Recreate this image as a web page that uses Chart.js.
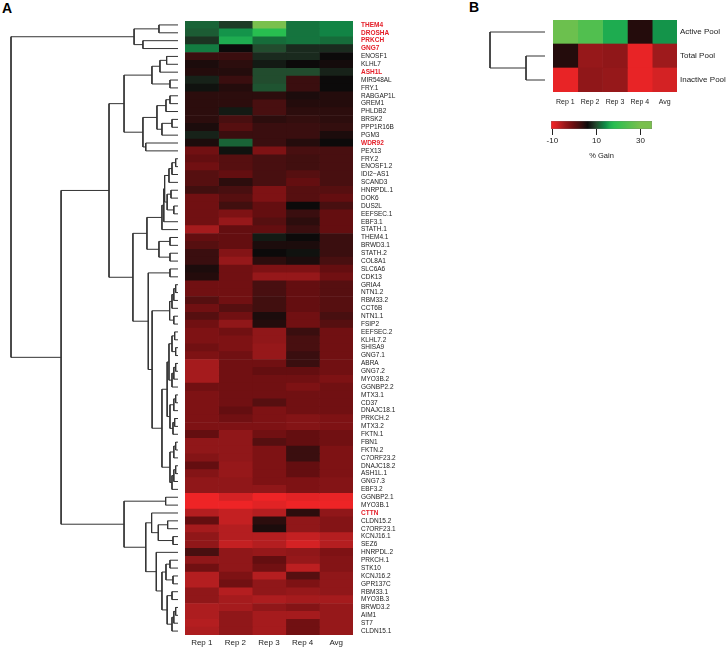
<!DOCTYPE html>
<html>
<head>
<meta charset="utf-8">
<script src="https://cdn.jsdelivr.net/npm/chart.js@4.4.1/dist/chart.umd.min.js"></script>
<style>
  body { margin: 0; background: #fff; width: 728px; height: 648px; position: relative; overflow: hidden;
         font-family: "Liberation Sans", Arial, sans-serif; }
  canvas, .panel { position: absolute; }
  .panel { font-weight: bold; font-size: 14px; line-height: 14px; color: #000; }
</style>
</head>
<body>
<div class="panel" style="left:2px;top:1px">A</div>
<div class="panel" style="left:469px;top:0px">B</div>
<canvas id="dendroA" width="185" height="648" style="left:0;top:0"></canvas>
<canvas id="heatA" width="245" height="648" style="left:185px;top:0"></canvas>
<canvas id="dendroB" width="70" height="110" style="left:480px;top:0"></canvas>
<canvas id="heatB" width="178" height="110" style="left:550px;top:0"></canvas>
<canvas id="scaleBar" width="125" height="60" style="left:540px;top:110px"></canvas>
<script>
// ---- data: panel A ----
const columns = ["Rep 1", "Rep 2", "Rep 3", "Rep 4", "Avg"];
const genes = ["THEM4", "DROSHA", "PRKCH", "GNG7", "ENOSF1", "KLHL7", "ASH1L", "MIR548AL", "FRY.1", "RABGAP1L",
  "GREM1", "PHLDB2", "BRSK2", "PPP1R16B", "PGM3", "WDR92", "PEX13", "FRY.2", "ENOSF1.2", "IDI2\u2212AS1",
  "SCAND3", "HNRPDL.1", "DOK6", "DUS2L", "EEFSEC.1", "EBF3.1", "STATH.1", "THEM4.1", "BRWD3.1", "STATH.2",
  "COL8A1", "SLC6A6", "CDK13", "GRIA4", "NTN1.2", "RBM33.2", "CCT6B", "NTN1.1", "FSIP2", "EEFSEC.2",
  "KLHL7.2", "SHISA9", "GNG7.1", "ABRA", "GNG7.2", "MYO3B.2", "GGNBP2.2", "MTX3.1", "CD37", "DNAJC18.1",
  "PRKCH.2", "MTX3.2", "FKTN.1", "FBN1", "FKTN.2", "C7ORF23.2", "DNAJC18.2", "ASH1L.1", "GNG7.3", "EBF3.2",
  "GGNBP2.1", "MYO3B.1", "CTTN", "CLDN15.2", "C7ORF23.1", "KCNJ16.1", "SEZ6", "HNRPDL.2", "PRKCH.1", "STK10",
  "KCNJ16.2", "GPR137C", "RBM33.1", "MYO3B.3", "BRWD3.2", "AIM1", "ST7", "CLDN15.1"];
const highlightGenes = ["THEM4", "DROSHA", "PRKCH", "GNG7", "ASH1L", "WDR92", "CTTN"];

// % gain per gene
const rep1 = [11.5, 11, 8.5, 13, 3, 5, 4.5, 7.5, 6.5, 4,
  4, 4, 4, 5, 7.5, 5, -1, 0, -1, 1,
  1, 2.5, -1, -1, -1, -1, -5, 0, 1, 3,
  3, 5, 4.5, -1, -1, 1, -1, 1, -1, -2,
  -2, -1, -2, -5, -5, -5, -1, -2, -2, -2,
  -2, -2, 0, -3.5, -3.5, -2.5, 0, -2.5, -3.5, -3.5,
  -10, -10, -6, 0, -5, -3.5, -3.5, 2, -3.5, -1,
  -6, -6, -3.5, -3.5, -5.5, -5.5, -6, -5.5];
const rep2 = [9, 14.5, 16, 6, 3, 4, 4.5, 3, 4.5, 4,
  4, 7, 2, 1, 3, 11.5, 6.5, 1, 1, 0,
  4, 2, 1, 2.5, -2, -4, 0, 0, 0, -2.5,
  -4, -1, -1, -1, -1, -1, 1, -1, -3.5, -1,
  -2, -2, -1, -1, -1, -1, -1, -1, -1, 0,
  -1, -2, -3.5, -3.5, -3.5, -3.5, -4, -4, -3.5, -3.5,
  -8, -10, -7, -7, -6, -6, -7, -3.5, -3.5, -3.5,
  -2, -1, -6, -5, -5, -3.5, -3.5, -3.5];
const rep3 = [30, 18, 12, 10, 8, 7, 10, 10, 10.5, 4,
  2, 2, 4, 3, 3, 3, -2, 2, 2, 2,
  2, -2, -2, 0, 0, 1, 0, 7, 5, 6,
  4, -2, -4, 2, 2, 2.5, 2.5, 5, 4.5, -3.5,
  -3.5, -4, -4, -1, 0, -1, -1, -1, 1, -2,
  -2, -2, -1, 1, -2, -2, -2, -2, -2, -3.5,
  -10, -9, -6, 4, 5, -6, -6, -4, 0, -1,
  -6, -3.5, -3.5, -5.5, -3.5, -5, -5, -5];
const rep4 = [12.5, 12.5, 12.5, 8, 8, 6, 10, 3, 3, 5,
  4.5, 4, 3.5, 3, 3, 4.5, 2, 2.5, 2.5, 1,
  0, 1, 1, 6, 3, 4, 3, 6, 5, 6.5,
  5, -2, -4, 0, 0, 0, 0, -1, -1, 3,
  2, 2, 3, 3, 0, -1, -2, -1, -1, -1,
  -2.5, -2.5, 0, 0, 3, 3, 0, 0, -2, -2,
  -9, -10, 4, -3.5, -3.5, -7, -8, -3.5, -4, -6.5,
  1, -2, -4, -5, -2.5, -5, -1, -1];
const avg = [13.5, 13.5, 12, 8, 6, 5.5, 7.5, 6, 6, 4.5,
  4.5, 4, 4, 3.5, 5, 6, 2, 2, 2, 2,
  2, 1, 0, 2, 0, 0, 0, 3, 3, 3,
  2, 0, -1, 1, 1, 1, 1, 2, 1, -1,
  -1, -1, -1, -1, -1, -2, -1, -1, -1, -1,
  -2, -2, -1, -1, -2, -2, -2, -2, -2.5, -2.5,
  -9.5, -10, -3.5, -2.5, -2.5, -6, -6, -2, -2.5, -2.5,
  -3.5, -3.5, -3.5, -5, -4, -4, -4, -4];

// row dendrogram, nodes are [height, left, right], leaves are row numbers
const treeTop = [26.3, [11.4, 1, 2], [21, 3, 4]];
const treeUpper = [32.3,
  [15.6, [10.8, [6.8, 5, 6], 7], [4.8, 8, 9]],
  [21, [12.6, [7.2, [4.8, 10, 11], 12], [9.6, [3.6, 13, 14], 15]], [19.3, 16, 17]]];
const treeMiddle = [27,
  [18.6,
    [9.6, [8.5, [8, [5.4, [3.6, [1.4, 18, 19], 20], 21], [6.5, [4.2, 22, 23], [2.5, 24, 25]]], 26], 27],
    [11.4, [4.8, 28, 29], [4.8, 30, 31]]],
  [17.8,
    [4.8, 32, 33],
    [15.5,
      [5, [3.6, [2.5, [1.4, 34, 35], 36], 37], [2.5, 38, 39]],
      [9.6,
        [6.5, [5.4, [3.6, [2, 40, 41], [1.4, 42, 43]], [3.6, [2.5, [1.4, 44, 45], 46], 47]],
              [4.8, [2.5, [1.4, 48, 49], 50], [3, [2, 51, 52], 53]]],
        [4.8, [2.5, [1.4, 54, 55], 56], [3.6, [2.5, [1.4, 57, 58], 59], 60]]]]]];
const treeBottom = [32.3,
  [7.4, 61, 62],
  [19.3,
    [15.8, 63, [11.8, [6.2, 64, 65], [3, 66, 67]]],
    [13, 68, [9.6, [7.2, [4.8, 69, 70], [3, 71, 72]],
                   [6.5, [3.6, 73, 74], [3.6, [2.5, [1.4, 75, 76], 77], 78]]]]]];
const treeA = [100, treeTop, [70, [41.3, treeUpper, treeMiddle], treeBottom]];

// ---- data: panel B ----
const pools = ["Active Pool", "Total Pool", "Inactive Pool"];
const poolRep1 = [28, 4.5, -9.5];
const poolRep2 = [24, -4, -3.5];
const poolRep3 = [16, -3.5, -4];
const poolRep4 = [4.5, -9.5, -9.5];
const poolAvg = [14.5, -4.5, -8];
const treeB = [100, 1, [34.5, 2, 3]];

const gainRange = [-10.6, 35.2];
const gainTicks = [-10, 10, 30];

// colour scale (% gain -> colour)
const stopVals = [-10, -8, -6, -4, -2, 0, 2, 4, 6, 8, 10, 12, 14, 16, 18, 30];
const stopRgb = [[238, 36, 38], [212, 34, 36], [180, 30, 32], [150, 24, 26], [126, 18, 20], [100, 14, 16],
  [72, 15, 16], [44, 13, 13], [12, 10, 10], [26, 42, 30], [34, 76, 46], [22, 108, 58], [16, 140, 72],
  [30, 172, 80], [40, 190, 80], [122, 192, 78]];

function colourFor(v) {
  let i = 0;
  if (v <= stopVals[0]) return "rgb(" + stopRgb[0].join(",") + ")";
  if (v >= stopVals[stopVals.length - 1]) return "rgb(" + stopRgb[stopRgb.length - 1].join(",") + ")";
  while (v > stopVals[i + 1]) i++;
  const t = (v - stopVals[i]) / (stopVals[i + 1] - stopVals[i]);
  const c = stopRgb[i].map((a, k) => Math.round(a + (stopRgb[i + 1][k] - a) * t));
  return "rgb(" + c.join(",") + ")";
}

Chart.defaults.font.family = '"Liberation Sans", Arial, sans-serif';
Chart.defaults.color = "#222";

const noPlugins = { legend: { display: false }, tooltip: { enabled: false } };

function dendroSegments(node, out) {
  if (typeof node === "number") return { y: node - 0.5, h: 0 };
  const l = dendroSegments(node[1], out);
  const r = dendroSegments(node[2], out);
  const h = node[0];
  out.push([{ x: l.h, y: l.y }, { x: h, y: l.y }, { x: h, y: r.y }, { x: r.h, y: r.y }]);
  return { y: (l.y + r.y) / 2, h: h };
}

function dendroChart(id, tree, rows, pad) {
  const segs = [];
  dendroSegments(tree, segs);
  new Chart(document.getElementById(id), {
    type: "scatter",
    data: {
      datasets: segs.map(s => ({
        data: s, showLine: true, borderColor: "#333", borderWidth: 1,
        pointRadius: 0, clip: false
      }))
    },
    options: {
      responsive: false, animation: false, events: [],
      layout: { padding: pad },
      scales: {
        x: { type: "linear", min: 0, max: 100, reverse: true, display: false },
        y: { type: "linear", min: 0, max: rows, reverse: true, display: false }
      },
      plugins: noPlugins
    }
  });
}

function heatChart(id, rowLabels, series, o) {
  const isHi = i => highlightGenes.includes(rowLabels[i]);
  new Chart(document.getElementById(id), {
    type: "bar",
    data: {
      labels: rowLabels,
      datasets: series.map((vals, c) => ({
        data: vals.map(() => [c, c + 1]),
        backgroundColor: vals.map(colourFor),
        borderWidth: 0, grouped: false,
        barPercentage: 1, categoryPercentage: 1
      }))
    },
    options: {
      indexAxis: "y", responsive: false, animation: false, events: [],
      layout: { padding: { top: o.top, left: 0, right: 0, bottom: 0 } },
      scales: {
        x: {
          type: "linear", min: 0, max: columns.length,
          grid: { display: false, drawTicks: false }, border: { display: false },
          afterBuildTicks: s => { s.ticks = columns.map((_, i) => ({ value: i + 0.5 })); },
          afterFit: s => { s.height = o.xh; },
          ticks: { autoSkip: false, maxRotation: 0, padding: o.xpad, font: { size: o.xfont },
                   callback: (v, i) => columns[i] }
        },
        y: {
          position: "right",
          grid: { display: false, drawTicks: false }, border: { display: false },
          afterFit: s => { s.width = o.yw; },
          ticks: {
            autoSkip: false, padding: o.ypad,
            color: ctx => isHi(ctx.index) ? "#e4202a" : "#222",
            font: ctx => ({ size: o.yfont, weight: isHi(ctx.index) ? "bold" : "normal" })
          }
        }
      },
      plugins: noPlugins
    }
  });
}

dendroChart("dendroA", treeA, genes.length, { left: 11, right: 7, top: 21, bottom: 13 });
heatChart("heatA", genes, [rep1, rep2, rep3, rep4, avg],
  { top: 21, xh: 13, xpad: 3, xfont: 8, yw: 77, ypad: 8, yfont: 6.5 });

dendroChart("dendroB", treeB, pools.length, { left: 10, right: 5, top: 20, bottom: 18 });
heatChart("heatB", pools, [poolRep1, poolRep2, poolRep3, poolRep4, poolAvg],
  { top: 20, xh: 18, xpad: 6, xfont: 7, yw: 51, ypad: 3, yfont: 8 });

// colour key
new Chart(document.getElementById("scaleBar"), {
  type: "bar",
  data: {
    labels: ["% Gain"],
    datasets: [{
      data: [gainRange],
      backgroundColor: ctx => {
        const chart = ctx.chart;
        const area = chart.chartArea;
        if (!area) return "#000";
        const xs = chart.scales.x;
        const g = chart.ctx.createLinearGradient(area.left, 0, area.right, 0);
        g.addColorStop(0, colourFor(gainRange[0]));
        stopVals.forEach(v => {
          const p = (xs.getPixelForValue(v) - area.left) / area.width;
          if (p > 0 && p < 1) g.addColorStop(p, colourFor(v));
        });
        g.addColorStop(1, colourFor(gainRange[1]));
        return g;
      },
      borderColor: "#777", borderWidth: 0.6, borderSkipped: false,
      barPercentage: 1, categoryPercentage: 1
    }]
  },
  options: {
    indexAxis: "y", responsive: false, animation: false, events: [],
    layout: { padding: { left: 11, right: 13, top: 11, bottom: 0 } },
    scales: {
      x: {
        type: "linear", min: gainRange[0], max: gainRange[1],
        afterBuildTicks: s => { s.ticks = gainTicks.map(v => ({ value: v })); },
        afterFit: s => { s.height = 41; },
        grid: { display: true, drawOnChartArea: false, drawTicks: true, tickLength: 6, color: "#222" },
        border: { display: false },
        ticks: { padding: 1, maxRotation: 0, font: { size: 8 } },
        title: { display: true, text: "% Gain", font: { size: 7.5 }, padding: { top: 4, bottom: 10 } }
      },
      y: { display: false }
    },
    plugins: noPlugins
  }
});
</script>
</body>
</html>
